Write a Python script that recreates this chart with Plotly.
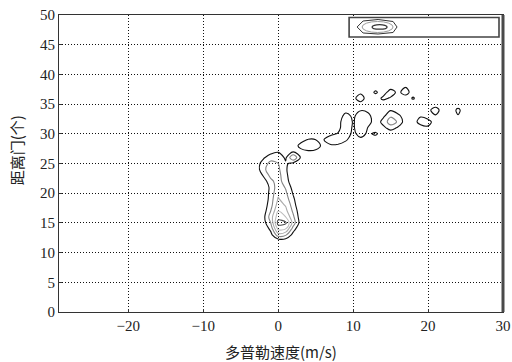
import numpy as np
import plotly.graph_objects as go

# ---------------- data ----------------
velocity_bins = list(range(-29, 31))      # Doppler velocity bins (m/s)
gate_bins = list(range(0, 51))            # range gates

# echo power, grouped by range gate
# each entry: gate -> (velocities, powers)
echo_rows = {
    12: ([0, 1], [0.3, 0.4]),
    13: ([-1, 0, 1, 2], [0.6, 2.6, 2.2, 0.6]),
    14: ([-1, 0, 1, 2], [1.3, 4.3, 4.0, 1.5]),
    15: ([-2, -1, 0, 1, 2, 3], [0.5, 2.0, 5.4, 5.2, 2.6, 0.5]),
    16: ([-2, -1, 0, 1, 2, 3], [0.6, 2.5, 4.6, 4.0, 2.2, 0.4]),
    17: ([-2, -1, 0, 1, 2, 3], [0.4, 2.0, 4.0, 3.3, 1.8, 0.3]),
    18: ([-2, -1, 0, 1, 2], [0.3, 1.6, 3.5, 2.9, 1.5]),
    19: ([-1, 0, 1, 2], [1.5, 3.1, 2.5, 1.2]),
    20: ([-1, 0, 1, 2], [1.4, 2.8, 2.2, 0.9]),
    21: ([-1, 0, 1, 2], [1.3, 2.6, 1.9, 0.6]),
    22: ([-2, -1, 0, 1, 2], [0.4, 1.7, 2.5, 1.4, 0.4]),
    23: ([-2, -1, 0, 1, 2], [1.1, 2.3, 2.4, 1.25, 0.3]),
    24: ([-3, -2, -1, 0, 1], [0.3, 1.7, 2.6, 2.2, 1.2]),
    25: ([-3, -2, -1, 0, 1, 2], [0.3, 1.5, 2.3, 2.0, 1.15, 0.7]),
    26: ([-2, -1, 0, 1, 2, 3], [0.8, 1.6, 1.7, 0.8, 3.0, 0.9]),
    27: ([-1, 0, 2, 3, 4, 5], [0.6, 0.9, 0.9, 0.6, 0.8, 0.6]),
    28: ([2, 3, 4, 5, 6, 7, 8], [0.3, 1.4, 1.95, 1.9, 0.5, 0.8, 0.7]),
    29: ([3, 4, 5, 6, 7, 8, 9, 11], [0.5, 1.1, 1.0, 0.9, 1.8, 1.9, 1.3, 0.6]),
    30: ([7, 8, 9, 10, 11, 12, 13], [0.7, 1.1, 1.9, 0.6, 1.6, 0.7, 1.3]),
    31: ([8, 9, 10, 11, 12, 14, 15, 16, 20], [0.6, 1.9, 0.8, 1.9, 0.9, 0.6, 1.6, 0.8, 0.6]),
    32: ([8, 9, 10, 11, 12, 14, 15, 16, 17, 19, 20], [0.5, 1.9, 0.9, 1.5, 1.8, 1.5, 2.4, 1.9, 0.4, 1.9, 1.8]),
    33: ([9, 10, 11, 12, 14, 15, 16, 19, 21, 24], [1.6, 0.7, 1.8, 1.5, 0.7, 1.9, 1.5, 0.8, 0.8, 0.9]),
    34: ([9, 11, 12, 15, 20, 21, 24], [0.4, 0.9, 0.6, 0.9, 0.5, 1.9, 1.4]),
    35: ([11], [0.4]),
    36: ([10, 11, 14, 15, 18], [0.5, 1.9, 1.4, 0.8, 1.2]),
    37: ([11, 13, 15, 16, 17], [0.6, 1.3, 1.9, 0.5, 1.9]),
    38: ([17], [0.8]),
}

x_ticks = [-20, -10, 0, 10, 20, 30]
y_ticks = [0, 5, 10, 15, 20, 25, 30, 35, 40, 45, 50]
x_title = "多普勒速度(m/s)"
y_title = "距离门(个)"

# ---------------- build grid ----------------
z = np.zeros((len(gate_bins), len(velocity_bins)))
for g, (vels, pows) in echo_rows.items():
    for v, p in zip(vels, pows):
        z[gate_bins.index(g), velocity_bins.index(v)] = p

fig = go.Figure()
fig.add_trace(go.Contour(
    x=velocity_bins, y=gate_bins, z=z,
    contours=dict(start=1, end=5, size=1, coloring="lines"),
    line=dict(width=1.1, smoothing=1.0),
    colorscale=[[0, "#111111"], [0.25, "#858585"], [0.5, "#aaaaaa"],
                [0.75, "#bcbcbc"], [1, "#4a4a4a"]],
    zmin=1, zmax=5, showscale=False, hoverinfo="skip",
))

tick_font = dict(family="Times New Roman, Liberation Serif, serif", size=15, color="#222")
axis_common = dict(
    showgrid=True, gridcolor="#111", gridwidth=1, griddash="1px,2px",
    zeroline=False, showline=True, linecolor="#333", linewidth=1, mirror=True,
    ticks="inside", ticklen=3, tickcolor="#333", tickfont=tick_font,
    automargin=False,
)
fig.update_xaxes(range=[-29.25, 30], tickvals=x_ticks, **axis_common)
fig.update_yaxes(range=[0, 50], tickvals=y_ticks, **axis_common)

# thick right frame
fig.add_shape(type="line", xref="paper", yref="paper", x0=1, x1=1, y0=0, y1=1,
              line=dict(color="#4a4a4a", width=3))

# legend box with contour icon
def px(xp):
    return (xp - 58.7) / 444.3

def py(yp):
    return (312 - yp) / 297

fig.add_shape(type="rect", xref="paper", yref="paper",
              x0=px(349), x1=px(499), y0=py(37), y1=py(17.5),
              line=dict(color="#444", width=1.6), fillcolor="white")
hexa = [(357, 27), (363, 21), (378, 19.5), (393, 21.5), (397, 27), (393, 32.5), (378, 34), (363, 33)]
path = "M " + " L ".join(f"{px(a):.4f},{py(b):.4f}" for a, b in hexa) + " Z"
fig.add_shape(type="path", xref="paper", yref="paper", path=path,
              line=dict(color="#333", width=1))
fig.add_shape(type="circle", xref="paper", yref="paper",
              x0=px(362), x1=px(393), y0=py(32.5), y1=py(21.5),
              line=dict(color="#9a9a9a", width=1))
fig.add_shape(type="circle", xref="paper", yref="paper",
              x0=px(372), x1=px(387), y0=py(29.2), y1=py(24.6),
              line=dict(color="#333", width=1.3))

cjk = dict(family="Noto Sans CJK SC", size=15, color="#222")
fig.add_annotation(text=x_title, xref="paper", yref="paper", x=0.5, y=py(351),
                   showarrow=False, font=cjk, xanchor="center", yanchor="middle")
fig.add_annotation(text=y_title, xref="paper", yref="paper", x=px(16), y=py(150),
                   showarrow=False, font=cjk, textangle=-90,
                   xanchor="center", yanchor="middle")

fig.update_layout(
    width=512, height=362,
    margin=dict(l=59, r=9, t=15, b=50),
    paper_bgcolor="white", plot_bgcolor="white",
    showlegend=False,
)

fig.write_html("out.html")
